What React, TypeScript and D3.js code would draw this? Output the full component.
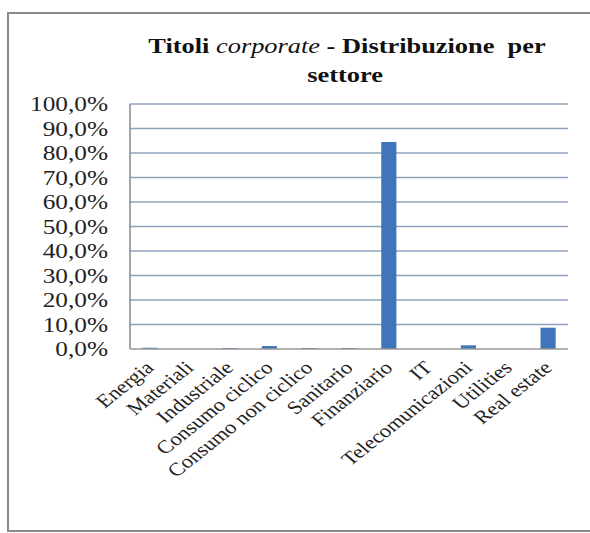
import React from "react";
import * as d3 from "d3";

const categories = [
  "Energia",
  "Materiali",
  "Industriale",
  "Consumo ciclico",
  "Consumo non ciclico",
  "Sanitario",
  "Finanziario",
  "IT",
  "Telecomunicazioni",
  "Utilities",
  "Real estate",
];
const values = [0.5, 0, 0.4, 1.2, 0.4, 0.4, 84.5, 0, 1.5, 0, 8.7];
const yTicks = [0, 10, 20, 30, 40, 50, 60, 70, 80, 90, 100];

const W = 590;
const H = 533;
const plot = { left: 130, right: 568, top: 104, bottom: 349 };

export default function App() {
  const x = d3
    .scaleBand<string>()
    .domain(categories)
    .range([plot.left, plot.right])
    .paddingInner(0.62)
    .paddingOuter(0.31);
  const y = d3.scaleLinear().domain([0, 100]).range([plot.bottom, plot.top]);
  const fmt = (v: number) => v.toFixed(1).replace(".", ",") + "%";
  const serif = "Liberation Serif, Times New Roman, serif";
  const step = (plot.right - plot.left) / categories.length;

  return (
    <svg
      width={W}
      height={H}
      style={{ position: "absolute", left: 0, top: 0, background: "#fff", fontFamily: serif }}
    >
      <rect x={8} y={13} width={600} height={518} fill="#fff" stroke="#8a8a8a" strokeWidth={2} />
      <g transform="translate(347,53) scale(1.2,1)">
        <text x={0} y={0} textAnchor="middle" fontSize={22} fontWeight="bold" fill="#111" style={{ fontFamily: serif }}>
          Titoli <tspan fontStyle="italic" fontWeight="normal">corporate</tspan> - Distribuzione{"\u00a0\u00a0"}per
        </text>
      </g>
      <g transform="translate(345,82) scale(1.2,1)">
        <text x={0} y={0} textAnchor="middle" fontSize={22} fontWeight="bold" fill="#111" style={{ fontFamily: serif }}>
          settore
        </text>
      </g>
      {yTicks.map((t) => (
        <g key={t}>
          {t > 0 && (
            <line
              x1={plot.left}
              x2={plot.right}
              y1={y(t)}
              y2={y(t)}
              stroke="#8ea2bd"
              strokeWidth={1.5}
            />
          )}
          <g transform={`translate(108,${y(t) + 7}) scale(1.15,1)`}>
            <text x={0} y={0} textAnchor="end" fontSize={22} fill="#222" style={{ fontFamily: serif }}>
              {fmt(t)}
            </text>
          </g>
        </g>
      ))}
      <line x1={plot.left} x2={plot.left} y1={plot.top} y2={plot.bottom} stroke="#888" strokeWidth={1.5} />
      {categories.map((c, i) => (
        <rect
          key={c}
          x={x(c)}
          y={y(values[i])}
          width={x.bandwidth()}
          height={plot.bottom - y(values[i])}
          fill="#3f75b9"
        />
      ))}
      <line x1={plot.left} x2={plot.right} y1={plot.bottom} y2={plot.bottom} stroke="#999" strokeWidth={1.5} />
      {categories.map((c, i) => {
        const cx = plot.left + step * (i + 0.5);
        return (
          <text
            key={c}
            transform={`translate(${cx + 5},${plot.bottom + 20}) scale(1.22,1) rotate(-44)`}
            textAnchor="end"
            fontSize={18.5}
            fill="#222"
            style={{ fontFamily: serif }}
          >
            {c}
          </text>
        );
      })}
    </svg>
  );
}
